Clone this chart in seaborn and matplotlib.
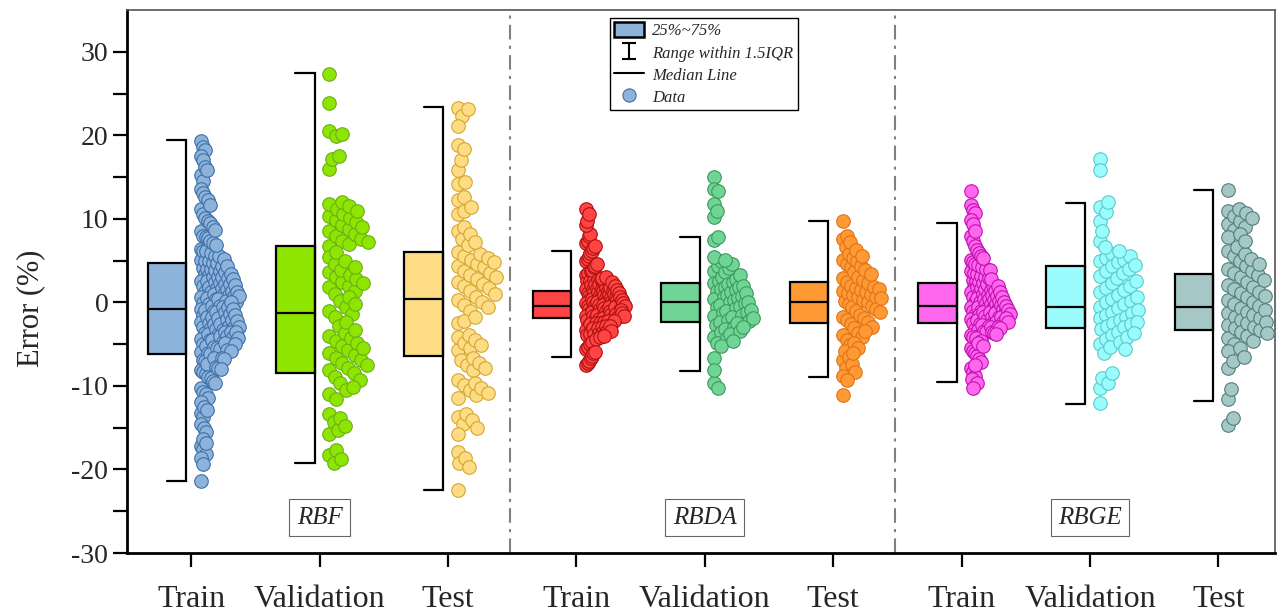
import numpy as np
import pandas as pd
import matplotlib
matplotlib.use("Agg")
import matplotlib.pyplot as plt
import seaborn as sns
from math import gcd
from matplotlib.patches import Patch
from matplotlib.lines import Line2D
from matplotlib.path import Path

# ---------------- data ----------------
models = ["RBF", "RBDA", "RBGE"]
subsets = ["Train", "Validation", "Test"]
tick_labels = subsets * 3

fills = ["#8DB3DB", "#8EE600", "#FDDC85", "#FF4444", "#6FD495", "#FF9933",
         "#FF66EE", "#9AFCFC", "#A5C8C6"]
edges = ["#3D6FA8", "#6AAE1A", "#D4A72C", "#B01010", "#3C9A5C", "#E07318",
         "#C010B0", "#5ACACA", "#4F7F7B"]

# box statistics: lower whisker, Q1, median, Q3, upper whisker
whis_lo = [-21.4, -19.2, -22.5, -6.5, -8.2, -8.9, -9.5, -12.2, -11.8]
q1      = [-6.2, -8.5, -6.4, -1.9, -2.3, -2.5, -2.5, -3.1, -3.3]
median  = [-0.8, -1.3, 0.4, -0.4, 0.0, 0.1, -0.4, -0.5, -0.6]
q3      = [4.7, 6.7, 6.0, 1.4, 2.3, 2.4, 2.3, 4.3, 3.4]
whis_hi = [19.4, 27.4, 23.4, 6.1, 7.8, 9.7, 9.5, 11.9, 13.5]

rbf_train = [19.3, 18.6, 18.2, 17.5, 17.1, 16.2, 15.8, 15.2, 14.5, 13.6, 13.1, 12.6, 12.2, 11.6, 11.2, 10.6, 10.1,
             9.8, 9.5, 9.0, 8.7, 8.5, 8.0, 7.8, 7.7, 7.3, 7.1, 6.9, 6.4, 6.2, 6.1,
             5.9, 5.6, 5.5, 5.2, 5.1, 5.0, 4.9, 4.7, 4.7, 4.4, 4.3, 4.1, 4.0, 4.0,
             3.9, 3.8, 3.6, 3.4, 3.4, 3.3, 3.1, 3.0, 3.0,
             2.9, 2.8, 2.6, 2.6, 2.5, 2.3, 2.2, 2.2, 2.1, 2.0,
             1.9, 1.7, 1.7, 1.6, 1.4, 1.3, 1.3, 1.2, 1.0, 1.0,
             0.9, 0.8, 0.8, 0.6, 0.5, 0.4, 0.4, 0.2, 0.1, 0.0,
             -0.1, -0.2, -0.4, -0.4, -0.5, -0.6, -0.8, -0.8, -0.9, -1.0,
             -1.1, -1.2, -1.4, -1.5, -1.5, -1.7, -1.8, -1.9, -2.0,
             -2.1, -2.2, -2.3, -2.5, -2.6, -2.6, -2.8, -2.9, -3.0, -3.0,
             -3.1, -3.2, -3.3, -3.5, -3.5, -3.6, -3.7, -3.8, -3.9, -4.0, -4.0,
             -4.1, -4.3, -4.4, -4.5, -4.5, -4.7, -4.8, -4.9, -5.0, -5.0,
             -5.2, -5.3, -5.5, -5.6, -5.7, -5.8, -5.9, -6.0,
             -6.2, -6.4, -6.6, -6.7, -6.8, -6.9, -7.0,
             -7.2, -7.4, -7.7, -7.8, -8.0, -8.1,
             -8.3, -8.6, -8.9, -9.1, -9.4,
             -9.7, -10.2, -10.7, -11.0, -11.5, -11.9,
             -12.5, -12.9, -13.2, -13.7, -14.6, -15.0, -15.5, -16.3, -16.8, -17.2, -17.6, -18.1, -18.6, -19.4, -21.4]

rbf_val = [27.3, 23.9, 20.5, 20.2, 19.9, 17.5, 17.2, 16.0,
           12.0, 11.8, 11.5, 11.2, 10.9, 10.6, 10.4, 10.1, 9.9, 9.6, 9.3, 9.0, 8.8, 8.5, 8.2, 7.9, 7.6, 7.4, 7.2, 7.0, 6.8,
           6.0, 5.4, 5.0, 4.6, 4.2, 3.9, 3.6, 3.3, 3.0, 2.8, 2.5, 2.3, 2.0, 1.8,
           1.4, 1.0, 0.6, 0.2, -0.2, -0.6, -1.0, -1.4, -1.8,
           -2.3, -2.8, -3.3, -3.7, -4.0, -4.3, -4.6, -4.9, -5.2, -5.5, -5.7,
           -6.0, -6.3, -6.6, -6.9, -7.2, -7.5, -7.8, -8.1, -8.5, -8.9, -9.3, -9.7,
           -10.1, -10.5, -11.0, -11.6,
           -13.3, -13.8, -14.3, -14.8, -15.3, -15.7,
           -17.7, -18.3, -18.8, -19.2]

rbf_test = [23.3, 23.1, 22.3, 21.1, 18.8, 18.4, 17.0, 15.8, 14.4, 14.2, 12.6, 12.2, 11.4, 10.9, 10.6, 9.0, 8.6, 8.2, 7.6, 7.2, 6.9,
            6.0, 5.8, 5.6, 5.3, 5.1, 4.8, 4.6, 4.4, 4.2, 3.8, 3.5, 3.3, 3.0, 2.8, 2.5, 2.2, 2.0, 1.7, 1.4, 1.0, 0.6, 0.3, 0.0,
            -0.3, -0.6, -1.0,
            -1.8, -2.2, -2.5, -3.9, -4.2, -4.5, -4.8, -5.1, -5.4, -5.7, -6.6, -6.9, -7.2, -7.5, -7.8, -8.1,
            -9.3, -9.6, -9.9, -10.2, -10.5, -10.8, -11.1, -11.4,
            -13.3, -13.7, -14.1, -14.5, -15.0, -15.7, -17.9, -18.6, -19.2, -19.7, -22.4]

rbda_train = [11.2, 10.6, 9.8, 9.3, 8.2, 7.9, 7.4, 7.1, 6.8, 6.5, 6.2, 5.9,
              5.5, 5.2, 4.9, 4.6, 4.4, 4.2, 3.9, 3.7, 3.5, 3.3, 3.1, 2.9,
              2.83, 2.74, 2.69, 2.6, 2.56, 2.47, 2.4, 2.34, 2.25, 2.19, 2.11, 2.06, 1.97, 1.9, 1.84, 1.75, 1.69, 1.6,
              1.55, 1.47, 1.42,
              1.37, 1.34, 1.26, 1.22, 1.15, 1.12, 1.04, 0.99, 0.93, 0.88, 0.82, 0.77, 0.7, 0.66, 0.59, 0.52, 0.48,
              0.41, 0.36, 0.3, 0.23, 0.2, 0.12, 0.08, 0.03, -0.05, -0.08, -0.16, -0.2, -0.27, -0.33, -0.36,
              -0.45, -0.48, -0.56, -0.6, -0.67, -0.73, -0.77, -0.84, -0.88, -0.96, -1.0, -1.07, -1.13, -1.16,
              -1.24, -1.28, -1.35, -1.4, -1.47, -1.52, -1.58, -1.64, -1.68, -1.75, -1.81, -1.87,
              -1.95, -2.04, -2.11, -2.2, -2.26, -2.37, -2.43, -2.52, -2.6, -2.71, -2.77, -2.86, -2.95, -3.03,
              -3.12, -3.2, -3.31, -3.38, -3.47, -3.56, -3.64, -3.75, -3.83, -3.94, -4.05, -4.17,
              -4.4, -4.7, -5.0, -5.3, -5.6, -5.9, -6.1, -6.4, -6.7, -7.0, -7.3, -7.5]

rbda_val = [15.0, 13.6, 13.3, 11.8, 11.0, 10.2, 7.8, 7.5,
            5.4, 5.1, 4.9, 4.6, 4.4, 4.1, 3.8,
            3.6, 3.3, 3.1, 2.8, 2.6, 2.4,
            2.3, 2.2, 2.0, 1.9, 1.8, 1.6, 1.5, 1.4, 1.2, 1.1, 0.9, 0.8, 0.7, 0.5, 0.4, 0.3, 0.1, 0.0,
            -0.1, -0.3, -0.4, -0.6, -0.7, -0.9, -1.0, -1.2, -1.3, -1.5, -1.6, -1.8, -1.9, -2.1, -2.2, -2.4,
            -2.5, -2.7, -2.9, -3.0, -3.2, -3.4, -3.6,
            -3.8, -4.1, -4.3, -4.6, -4.9, -5.2,
            -6.6, -8.1, -9.6, -10.3]

rbda_test = [9.8, 8.0, 7.6, 7.2, 6.6, 6.3,
             5.8, 5.6, 5.3, 5.1, 4.9, 4.6, 4.4, 4.2, 3.9, 3.6, 3.4,
             3.1, 2.9, 2.7, 2.5, 2.3,
             2.0, 1.8, 1.7, 1.6, 1.5, 1.4, 1.2, 1.1, 1.0, 0.9, 0.7, 0.6, 0.5, 0.3, 0.2,
             0.0, -0.2, -0.4, -0.6, -0.8, -1.0, -1.2, -1.5, -1.7, -1.9, -2.1, -2.3,
             -2.6, -2.9, -3.1, -3.4, -3.7, -3.9, -4.2, -4.5, -4.8, -5.1, -5.4, -5.8, -6.1,
             -6.5, -6.9, -7.4, -7.8, -8.3, -8.8, -9.3,
             -11.1]

rbge_train = [13.3, 11.6, 11.1, 10.7, 9.9, 9.4, 8.6, 7.9, 7.4, 6.8, 6.3, 5.9, 5.6,
              5.3, 5.1, 4.8, 4.6, 4.5, 4.2, 4.0, 3.9, 3.7, 3.5, 3.4, 3.2, 3.1, 2.9, 2.8, 2.7, 2.6, 2.4,
              2.3, 2.2, 2.1, 2.0, 1.9, 1.8, 1.7, 1.6, 1.5, 1.4, 1.3, 1.2, 1.1, 1.0, 0.9, 0.9, 0.8, 0.7,
              0.6, 0.5, 0.4, 0.4, 0.3, 0.2, 0.1, 0.1, 0.0, -0.1, -0.2, -0.2, -0.3, -0.4, -0.5, -0.5,
              -0.6, -0.7, -0.8, -0.8, -0.9, -1.0, -1.0, -1.1, -1.2, -1.3, -1.3, -1.4, -1.5, -1.5, -1.6,
              -1.7, -1.8, -1.8, -1.9, -2.0, -2.1, -2.1, -2.2, -2.3, -2.4, -2.4, -2.5, -2.6, -2.7,
              -2.8, -2.9, -3.0, -3.1, -3.2, -3.3, -3.4, -3.5, -3.6, -3.7, -3.8, -3.9, -4.0, -4.1, -4.3,
              -4.6, -4.9, -5.2, -5.5, -5.8, -6.1, -6.4, -6.8, -7.1, -7.5, -7.9, -8.3, -8.8, -9.2, -9.6, -10.3]

rbge_val = [17.2, 15.8, 12.0, 11.4, 10.8, 9.8, 8.6, 7.4, 6.6,
            6.1, 5.8, 5.6, 5.3, 5.1, 5.0, 4.8, 4.5, 4.3, 4.0, 3.8, 3.5, 3.2, 2.9,
            2.6, 2.3, 2.0, 1.7, 1.5, 1.2, 0.9, 0.6, 0.4, 0.2,
            0.0, -0.2, -0.5, -0.7, -0.9, -1.1, -1.3, -1.5, -1.7, -1.9, -2.1, -2.3, -2.5, -2.6, -2.8, -3.0, -3.2,
            -3.5, -3.7,
            -3.9, -4.2, -4.4, -4.7, -5.0, -5.3, -5.6, -6.0,
            -8.5, -9.0, -9.6, -10.2,
            -12.1]

rbge_test = [13.5, 11.2, 11.0, 10.7, 10.4, 10.1, 9.7, 9.4, 9.0, 8.7, 8.2, 7.8, 7.4,
             6.6, 6.2, 5.8, 5.5, 5.2, 4.9, 4.6, 4.3, 4.0, 3.8, 3.5, 3.3, 3.0, 2.7, 2.4, 2.1,
             1.8, 1.6, 1.3, 1.1, 0.8, 0.6, 0.3, 0.1, -0.2, -0.4, -0.7, -0.9,
             -1.1, -1.3, -1.5, -1.7, -1.9, -2.1, -2.3, -2.5, -2.7, -2.9, -3.1, -3.3, -3.5, -3.7,
             -4.0, -4.3, -4.6, -5.0, -5.4, -5.8,
             -6.5, -7.0, -7.8, -10.4, -11.6, -13.8, -14.7]

groups = [rbf_train, rbf_val, rbf_test, rbda_train, rbda_val, rbda_test,
          rbge_train, rbge_val, rbge_test]

# ---------------- style ----------------
sns.set_theme(style="white")
plt.rcParams["font.family"] = ["Liberation Serif", "DejaVu Serif"]
plt.rcParams["axes.unicode_minus"] = False

fig, ax = plt.subplots(figsize=(12.77, 6.14), dpi=100)
fig.subplots_adjust(left=0.0995, right=0.9984, top=0.9837, bottom=0.0993)

BOX_OFF = -0.19      # box centre relative to category position
BOX_W = 0.30
PT_OFF = 0.075       # first column of points

# ---------------- half boxes ----------------
rows = []
for i in range(9):
    for v in (whis_lo[i], q1[i], median[i], q3[i], whis_hi[i]):
        rows.append({"pos": i + BOX_OFF, "val": v, "grp": str(i)})
box_df = pd.DataFrame(rows)
sns.boxplot(data=box_df, x="pos", y="val", hue="grp", palette=fills,
            native_scale=True, width=BOX_W, whis=(0, 100), dodge=False,
            saturation=1, showcaps=False, showfliers=False,
            whiskerprops={"linewidth": 0}, linecolor="black", linewidth=1.6,
            legend=False, ax=ax)

# whisker brackets on the right side of the boxes
for i in range(9):
    xr = i + BOX_OFF + BOX_W / 2
    xc = i + BOX_OFF
    ax.plot([xc, xr, xr, xc], [whis_lo[i], whis_lo[i], whis_hi[i], whis_hi[i]],
            color="black", lw=1.6, solid_joinstyle="miter", zorder=2)

# ---------------- half data points (one-sided swarm) ----------------
SX, SY = 128.3, 8.37   # approx. pixels per data unit on x and y


def half_swarm(vals, d_px=11.0, max_w=0.30):
    v = np.asarray(vals, dtype=float)
    srt = np.argsort(-v)
    n = len(v)
    stride = 7
    while gcd(stride, n) != 1:
        stride += 1
    order = [srt[(k * stride) % n] for k in range(n)]   # interleaved placement order
    px, py = [], []
    off = np.zeros(n)
    for i in order:
        y = v[i] * SY
        iv = []
        for qx, qy in zip(px, py):
            dy = abs(qy - y)
            if dy < d_px:
                w = np.sqrt(d_px ** 2 - dy ** 2)
                iv.append((qx - w, qx + w))
        x = 0.0
        changed = True
        while changed:
            changed = False
            for a, b in iv:
                if a < x < b - 1e-9:
                    x = b
                    changed = True
        px.append(x)
        py.append(y)
        off[i] = x / SX
    if off.max() > max_w:
        off *= max_w / off.max()
    return PT_OFF + off, np.array(order)


for i, vals in enumerate(groups):
    off, order = half_swarm(vals)
    xs = (i + off)[order]
    ys = np.asarray(vals, dtype=float)[order]
    sns.scatterplot(x=xs, y=ys, color=fills[i], edgecolor=edges[i],
                    s=95, linewidth=0.8, ax=ax, zorder=3, legend=False)

# ---------------- separators & model names ----------------
for xsep in (2.48, 5.48):
    ax.axvline(xsep, color="#808080", lw=1.5, ls=(0, (7, 3, 1.5, 3)), zorder=1)

for k, name in enumerate(models):
    ax.text(3 * k + 1, -25.8, name, fontsize=18, style="italic", ha="center", va="center",
            bbox=dict(boxstyle="square,pad=0.3", fc="white", ec="#666666", lw=0.8), zorder=4)

# ---------------- axes ----------------
ax.set_xlim(-0.5, 8.44)
ax.set_ylim(-30, 35)
ax.set_xticks(range(9))
ax.set_xticklabels(tick_labels, fontsize=23)
ax.set_yticks(np.arange(-30, 31, 10))
ax.set_yticks(np.arange(-25, 35, 10), minor=True)
ax.tick_params(axis="y", labelsize=20)
ax.tick_params(axis="both", which="both", direction="out", color="black",
               width=1.6, length=10, left=True, bottom=True)
ax.tick_params(axis="x", pad=13)
ax.set_xlabel("")
ax.set_ylabel("Error (%)", fontsize=22)
ax.yaxis.set_label_coords(-0.071, 0.45)

for side in ("left", "bottom"):
    ax.spines[side].set_color("black")
    ax.spines[side].set_linewidth(2)
for side in ("top", "right"):
    ax.spines[side].set_color("#555555")
    ax.spines[side].set_linewidth(1.2)

# ---------------- legend ----------------
ibeam = Path([(-0.4, 0.5), (0.4, 0.5), (0, 0.5), (0, -0.5), (-0.4, -0.5), (0.4, -0.5)],
             [Path.MOVETO, Path.LINETO, Path.MOVETO, Path.LINETO, Path.MOVETO, Path.LINETO])
handles = [
    Patch(facecolor=fills[0], edgecolor="black", linewidth=1.8),
    Line2D([], [], ls="none", marker=ibeam, markersize=12, markeredgecolor="black",
           markeredgewidth=1.5, color="black"),
    Line2D([], [], color="black", lw=1.5),
    Line2D([], [], ls="none", marker="o", markersize=9.5, markerfacecolor=fills[0],
           markeredgecolor=edges[0], markeredgewidth=0.8),
]
labels = ["25%~75%", "Range within 1.5IQR", "Median Line", "Data"]
leg = ax.legend(handles, labels, loc="upper left", bbox_to_anchor=(0.4207, 0.985),
                prop={"family": "Liberation Serif", "style": "italic", "size": 12},
                frameon=True, fancybox=False, edgecolor="black", framealpha=1,
                handlelength=1.8, handleheight=1.0, labelspacing=0.3,
                borderpad=0.25, handletextpad=0.5, borderaxespad=0)
leg.get_frame().set_linewidth(1.0)

fig.savefig("out.png", dpi=100)
